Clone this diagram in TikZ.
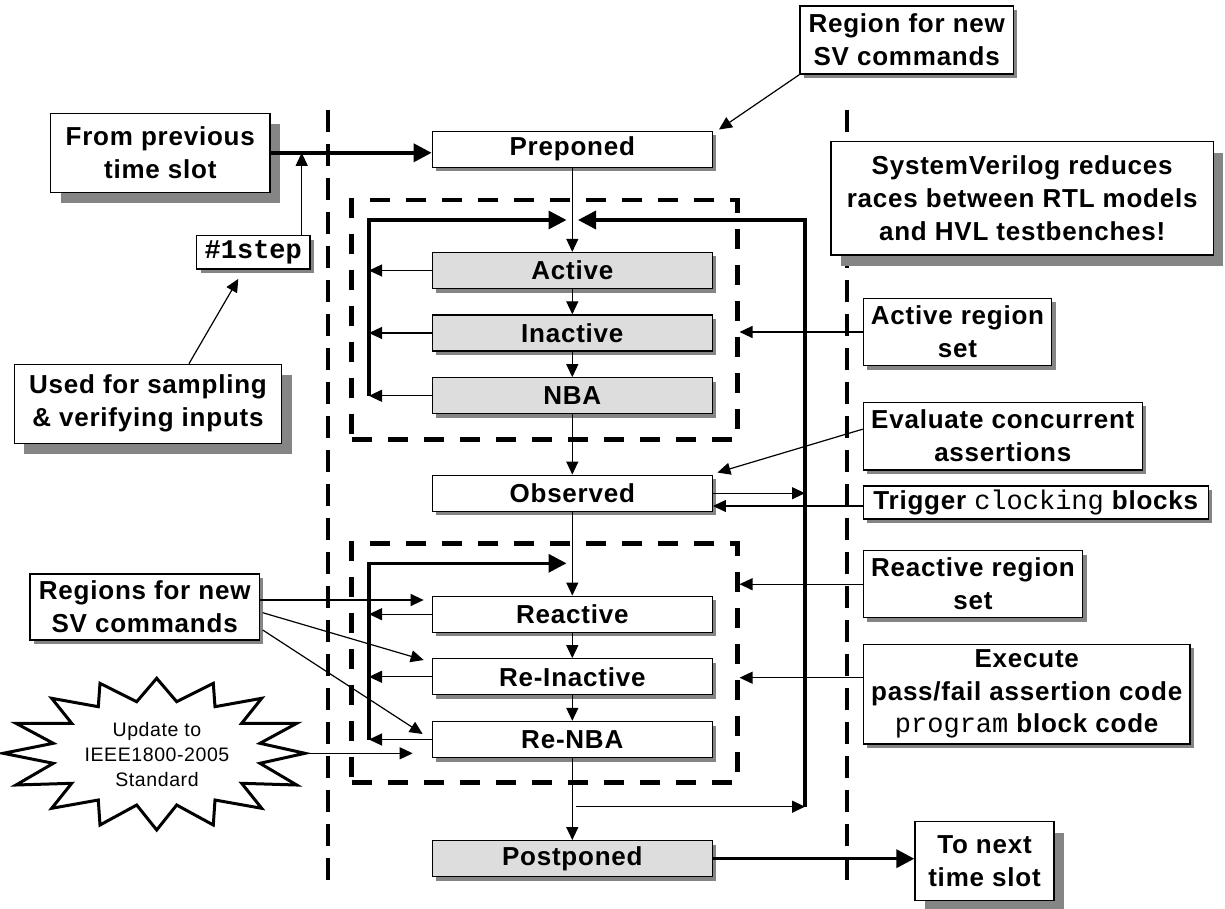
\documentclass[tikz,border=0pt]{standalone}
\usepackage{fontspec}
\setmainfont{Liberation Sans}[LetterSpace=3]
\newfontfamily\codefont{Liberation Mono}
\usetikzlibrary{arrows.meta,shadows}

\definecolor{regiongray}{HTML}{DDDDDD}
\definecolor{shadowgray}{HTML}{858585}

\tikzset{
  every node/.style={font=\bfseries\fontsize{26}{33}\selectfont, align=center, inner sep=0pt},
  lowshadow/.style={drop shadow={shadow xshift=4pt, shadow yshift=-4pt, fill=shadowgray, opacity=1}},
  highshadow/.style={drop shadow={shadow xshift=10pt, shadow yshift=-11pt, fill=shadowgray, opacity=1}},
  regionbox/.style={draw, line width=1.3pt, fill=white, minimum width=280pt, minimum height=36pt, lowshadow},
  notebox/.style={draw, line width=1.3pt, fill=white, lowshadow},
  bignote/.style={draw, line width=1.3pt, fill=white, highshadow},
  regionset/.style={draw, line width=4.5pt, dash pattern=on 20pt off 16pt},
  slotline/.style={line width=4.5pt, dash pattern=on 22pt off 12pt},
  thinarrow/.style={line width=1.2pt, -{Triangle[length=13pt,width=12pt]}},
  thickarrow/.style={line width=3.5pt, -{Triangle[length=18pt,width=18pt]}},
  thickline/.style={line width=3.5pt}
}

\begin{document}
\begin{tikzpicture}[x=1pt,y=-1pt]
\useasboundingbox (0,0) rectangle (1225,909);

% time slot boundaries
\draw[slotline] (328,110) -- (328,880);
\draw[slotline] (847,110) -- (847,880);

% active and reactive region sets
\node[regionset, minimum width=385.6pt, minimum height=239.3pt] (setA) at (544.5,319.7) {};
\node[regionset, minimum width=385.6pt, minimum height=239.4pt] (setB) at (544.5,663) {};

% scheduling regions
\node[regionbox] (pre) at (572.3,149.2) {Preponed};
\node[regionbox, fill=regiongray] (act) at (572.3,270.5) {Active};
\node[regionbox, fill=regiongray] (inact) at (572.3,333) {Inactive};
\node[regionbox, fill=regiongray] (nba) at (572.3,395.8) {NBA};
\node[regionbox] (obs) at (572.3,493.2) {Observed};
\node[regionbox] (reac) at (572.3,614.2) {Reactive};
\node[regionbox] (reinact) at (572.3,676.8) {Re-Inactive};
\node[regionbox] (renba) at (572.3,739.5) {Re-NBA};
\node[regionbox, fill=regiongray] (post) at (572.3,858.7) {Postponed};

% notes
\node[bignote, minimum width=219.3pt, minimum height=79pt] (from) at (160.3,152.8) {From previous\\time slot};
\node[notebox, minimum width=113.3pt, minimum height=33.3pt, font=\codefont\bfseries\fontsize{27}{30}\selectfont] (step) at (253.3,252.3) {\#1step};
\node[bignote, minimum width=267.4pt, minimum height=79pt] (used) at (148,403.8) {Used for sampling\\\& verifying inputs};
\node[notebox, minimum width=213.3pt, minimum height=68pt] (regnew) at (906.7,40) {Region for new\\SV commands};
\node[bignote, minimum width=382.3pt, minimum height=113.3pt] (sysv) at (1022.2,198.3) {SystemVerilog reduces\\races between RTL models\\and HVL testbenches!};
\node[notebox, minimum width=188.4pt, minimum height=67.4pt] (actset) at (957.5,332) {Active region\\set};
\node[notebox, minimum width=279pt, minimum height=67.7pt] (evalc) at (1002.8,436.2) {Evaluate concurrent\\assertions};
\node[notebox, minimum width=345pt, minimum height=33pt] (trig) at (1035.8,502.5) {Trigger {\codefont\mdseries\fontsize{27}{30}\selectfont clocking} blocks};
\node[notebox, minimum width=219.4pt, minimum height=67pt] (reset) at (973,584.2) {Reactive region\\set};
\node[notebox, minimum width=326.7pt, minimum height=99.7pt, font=\bfseries\fontsize{26}{32.5}\selectfont] (exec) at (1026.7,694.2) {Execute\\pass/fail assertion code\\{\codefont\mdseries\fontsize{27}{30}\selectfont program} block code};
\node[bignote, minimum width=139pt, minimum height=79pt] (tonext) at (984.5,861.2) {To next\\time slot};
\node[notebox, minimum width=229.3pt, minimum height=66pt] (regsnew) at (144.7,607) {Regions for new\\SV commands};

% starburst
\draw[line width=3pt, fill=white, line join=miter]
  (156.7,678.3) -- (136.7,701.7) -- (100,683.3) -- (98.3,706.7) -- (51.7,698.3)
  -- (71.7,723.3) -- (16,723.3) -- (53.3,743.3) -- (3.3,753.3) -- (53.3,763.3)
  -- (16,785) -- (71.7,783.3) -- (51.7,808.3) -- (98.3,800) -- (100,825)
  -- (136.7,805) -- (156.7,830) -- (176.7,805) -- (213.3,825) -- (215,800)
  -- (261.7,808.3) -- (241.7,783.3) -- (296.7,785) -- (260,763.3) -- (305,753.3)
  -- (260,743.3) -- (296.7,723.3) -- (241.7,723.3) -- (261.7,698.3) -- (215,706.7)
  -- (213.3,683.3) -- (176.7,701.7) -- cycle;
\coordinate (burstE) at (305,753.3);
\node[font=\mdseries\fontsize{19.5}{25}\selectfont] (burst) at (157,755) {Update to\\IEEE1800-2005\\Standard};

% flow through the regions
\draw[thinarrow] (pre) -- (act);
\draw[thinarrow] (act) -- (inact);
\draw[thinarrow] (inact) -- (nba);
\draw[thinarrow] (nba) -- (obs);
\draw[thinarrow] (obs) -- (reac);
\draw[thinarrow] (reac) -- (reinact);
\draw[thinarrow] (reinact) -- (renba);
\draw[thinarrow] (renba) -- (post);

% active set loop
\coordinate (loopAtop) at (369,220);
\coordinate (loopAbot) at (369,395.8);
\coordinate (loopAin) at (566.5,220);
\draw[thinarrow] (act.west) -- (act.west -| loopAtop);
\draw[thinarrow] (inact.west) -- (inact.west -| loopAtop);
\draw[thinarrow] (nba.west) -- (loopAbot);
\draw[thickarrow] (loopAbot) -- (loopAtop) -- (loopAin);

% reactive set loop
\coordinate (loopBtop) at (369,563.3);
\coordinate (loopBbot) at (369,739.5);
\coordinate (loopBin) at (566.5,563.3);
\draw[thinarrow] (reac.west) -- (reac.west -| loopBtop);
\draw[thinarrow] (reinact.west) -- (reinact.west -| loopBtop);
\draw[thinarrow] (renba.west) -- (loopBbot);
\draw[thickarrow] (loopBbot) -- (loopBtop) -- (loopBin);

% return path to the active set
\coordinate (retStart) at (576,806.7);
\coordinate (retBot) at (805,806.7);
\coordinate (retTop) at (805,220);
\coordinate (retIn) at (578,220);
\draw[thinarrow] (retStart) -- (retBot);
\draw[thickarrow] (retBot) -- (retTop) -- (retIn);

% observed region links
\draw[thinarrow] (obs.east) -- (obs.east -| retTop);
\draw[thinarrow] ([yshift=-3.5pt]trig.west) -- ([yshift=-3.5pt]trig.west -| obs.east);
\draw[thinarrow] ([yshift=7pt]evalc.west) -- ([shift={(4.5,-2)}]obs.north east);

% time slot entry and exit
\draw[thickarrow] (from.east) -- (from.east -| pre.west);
\coordinate (tap) at (301.7,152.8);
\draw[thinarrow] (step.north -| tap) -- (tap);
\draw[thinarrow] ([xshift=41pt]used.north) -- ([shift={(-15,9.3)}]step.south);
\draw[thickarrow] (post.east) -- (post.east -| tonext.west);

% annotations
\draw[thinarrow] (regnew.south west) -- ([shift={(6,-1)}]pre.north east);
\draw[thinarrow] (actset.west) -- (actset.west -| setA.east);
\draw[thinarrow] (reset.west) -- (reset.west -| setB.east);
\draw[thinarrow] ([yshift=16.5pt]exec.west) -- ([yshift=16.5pt]exec.west -| setB.east);
\draw[thinarrow] ([yshift=7pt]regsnew.east) -- ([shift={(-8,-14.2)}]reac.west);
\draw[thinarrow] ([shift={(2.7,5.7)}]regsnew.east) -- ([shift={(-8,-16.8)}]reinact.west);
\draw[thinarrow] ([shift={(2.7,23)}]regsnew.east) -- ([shift={(-9,-5.5)}]renba.west);
\draw[thinarrow] (burstE) -- ([shift={(-19,13.8)}]renba.west);

\end{tikzpicture}
\end{document}
